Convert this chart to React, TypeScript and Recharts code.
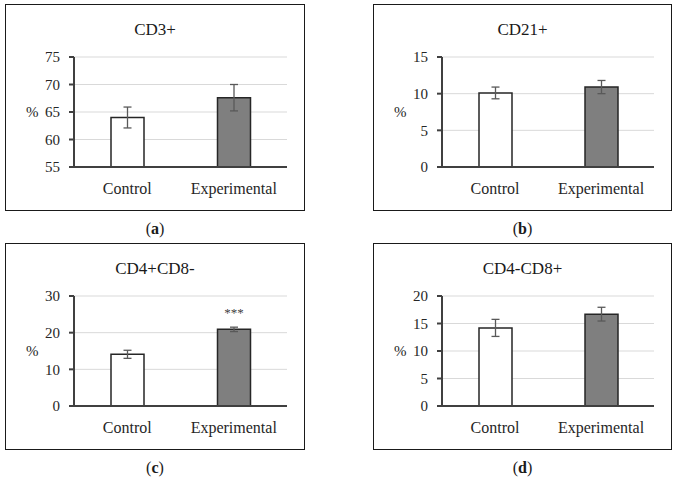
import React from "react";
import { BarChart, Bar, XAxis, YAxis, CartesianGrid, Cell, ErrorBar, LabelList } from "recharts";

const categories = ["Control", "Experimental"];

const cd3Means = [64.0, 67.6];
const cd3Errors = [1.9, 2.4];
const cd3Ticks = [55, 60, 65, 70, 75];

const cd21Means = [10.1, 10.9];
const cd21Errors = [0.8, 0.9];
const cd21Ticks = [0, 5, 10, 15];

const cd4Means = [14.1, 20.9];
const cd4Errors = [1.1, 0.6];
const cd4Ticks = [0, 10, 20, 30];
const cd4Sig = ["", "***"];

const cd8Means = [14.2, 16.7];
const cd8Errors = [1.55, 1.25];
const cd8Ticks = [0, 5, 10, 15, 20];

const BAR_FILLS = ["#ffffff", "#7f7f7f"];
const FONT = "'Liberation Serif', 'Times New Roman', serif";

interface PanelProps {
  left: number;
  top: number;
  width: number;
  title: string;
  caption: string;
  means: number[];
  errors: number[];
  ticks: number[];
  sig?: string[];
}

function Panel({ left, top, width, title, caption, means, errors, ticks, sig }: PanelProps) {
  const height = 207;
  const data = categories.map((name, i) => ({
    name,
    value: means[i],
    err: errors[i],
    sig: sig ? sig[i] : "",
  }));

  return (
    <>
      <div
        style={{
          position: "absolute",
          left,
          top,
          width,
          height,
          border: "1px solid #1a1a1a",
          boxSizing: "border-box",
          background: "#fff",
        }}
      >
        <div
          style={{
            position: "absolute",
            left: 0,
            width: "100%",
            top: 15,
            textAlign: "center",
            fontFamily: FONT,
            fontSize: 17,
            color: "#1a1a1a",
          }}
        >
          {title}
        </div>
        <div style={{ position: "absolute", left: -1, top: -1 }}>
          <BarChart width={width} height={height} data={data} margin={{ top: 53, right: 18, bottom: 0, left: 0 }}>
            <CartesianGrid horizontal vertical={false} stroke="#d9d9d9" strokeWidth={1} />
            <XAxis
              dataKey="name"
              axisLine={{ stroke: "#404040", strokeWidth: 2 }}
              tickLine={false}
              tickSize={6}
              tickMargin={10}
              tick={{ fill: "#262626", fontSize: 16, fontFamily: FONT }}
              height={44}
            />
            <YAxis
              width={69}
              domain={[ticks[0], ticks[ticks.length - 1]]}
              ticks={ticks}
              interval={0}
              axisLine={{ stroke: "#404040", strokeWidth: 2 }}
              tickLine={{ stroke: "#404040", strokeWidth: 2 }}
              tickSize={5}
              tickMargin={9}
              tick={{ fill: "#262626", fontSize: 15, fontFamily: FONT }}
              label={{ value: "%", position: "insideLeft", offset: 21, fill: "#262626", fontSize: 15, fontFamily: FONT }}
            />
            <Bar dataKey="value" barSize={33} stroke="#262626" strokeWidth={1.5} isAnimationActive={false}>
              {data.map((d, i) => (
                <Cell key={d.name} fill={BAR_FILLS[i]} />
              ))}
              <ErrorBar dataKey="err" width={4} stroke="#595959" strokeWidth={1.3} isAnimationActive={false} />
              {sig && (
                <LabelList dataKey="sig" position="top" offset={12} fill="#404040" fontSize={13} fontFamily={FONT} />
              )}
            </Bar>
          </BarChart>
        </div>
      </div>
      <div
        style={{
          position: "absolute",
          left,
          width,
          top: top + height + 9,
          textAlign: "center",
          fontFamily: FONT,
          fontSize: 16,
          color: "#1a1a1a",
        }}
      >
        (<b>{caption}</b>)
      </div>
    </>
  );
}

export default function App() {
  return (
    <div style={{ position: "absolute", left: 0, top: 0, width: 678, height: 484, background: "#fff" }}>
      <Panel left={5} top={4} width={300} title="CD3+" caption="a" means={cd3Means} errors={cd3Errors} ticks={cd3Ticks} />
      <Panel left={373} top={4} width={299} title="CD21+" caption="b" means={cd21Means} errors={cd21Errors} ticks={cd21Ticks} />
      <Panel
        left={5}
        top={243}
        width={300}
        title="CD4+CD8-"
        caption="c"
        means={cd4Means}
        errors={cd4Errors}
        ticks={cd4Ticks}
        sig={cd4Sig}
      />
      <Panel left={373} top={243} width={299} title="CD4-CD8+" caption="d" means={cd8Means} errors={cd8Errors} ticks={cd8Ticks} />
    </div>
  );
}
